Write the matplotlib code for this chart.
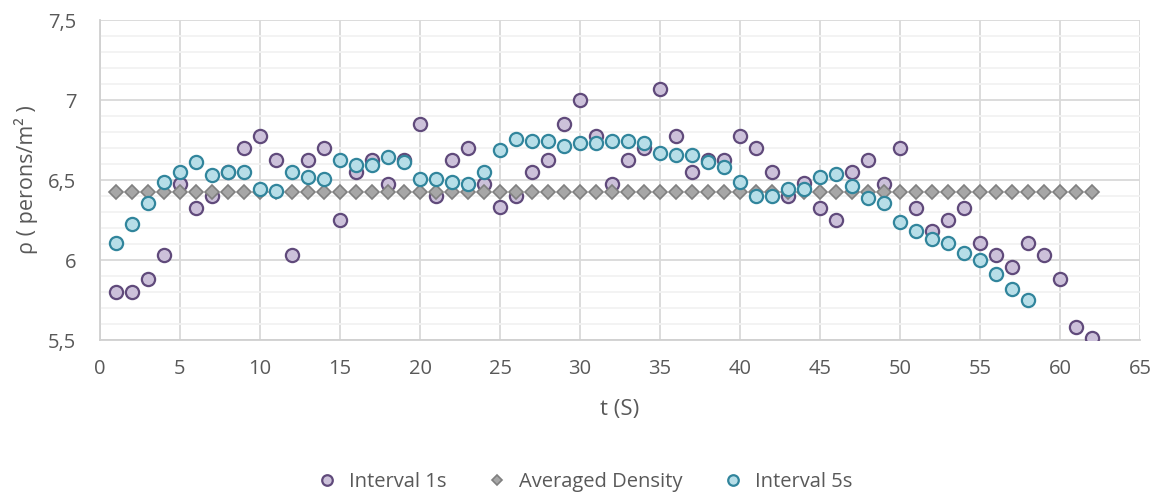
import matplotlib.pyplot as plt
import numpy as np
from matplotlib.ticker import FuncFormatter, MultipleLocator

plt.rcParams['font.family'] = ['Open Sans', 'DejaVu Sans']

# density sampled every second
t_1s = list(range(1, 63))
rho_1s = [
    5.80, 5.80, 5.88, 6.03, 6.475, 6.325, 6.40, 6.55, 6.70, 6.775,
    6.625, 6.03, 6.625, 6.70, 6.25, 6.55, 6.625, 6.475, 6.625, 6.85,
    6.40, 6.625, 6.70, 6.475, 6.33, 6.40, 6.55, 6.625, 6.85, 7.00,
    6.775, 6.475, 6.625, 6.70, 7.07, 6.775, 6.55, 6.625, 6.625, 6.775,
    6.70, 6.55, 6.40, 6.48, 6.325, 6.25, 6.55, 6.625, 6.475, 6.70,
    6.325, 6.18, 6.25, 6.325, 6.105, 6.03, 5.955, 6.105, 6.03, 5.88,
    5.58, 5.51,
]

# mean density over the whole run
t_avg = list(range(1, 63))
rho_avg = [6.423] * 62

# density averaged over a 5 s window
t_5s = list(range(1, 59))
rho_5s = [
    6.105, 6.223, 6.356, 6.49, 6.552, 6.61, 6.533, 6.55, 6.55, 6.446,
    6.433, 6.55, 6.52, 6.506, 6.625, 6.596, 6.596, 6.642, 6.612, 6.506,
    6.506, 6.49, 6.477, 6.55, 6.685, 6.756, 6.744, 6.744, 6.713, 6.729,
    6.729, 6.744, 6.744, 6.729, 6.67, 6.654, 6.654, 6.61, 6.58, 6.49,
    6.40, 6.40, 6.446, 6.446, 6.519, 6.535, 6.46, 6.385, 6.356, 6.238,
    6.18, 6.133, 6.104, 6.044, 6.00, 5.91, 5.82, 5.75,
]

text_color = '#595959'

fig = plt.figure(figsize=(11.6, 4.93), dpi=100)
ax = fig.add_axes([0.0862, 0.3103, 0.8966, 0.6491])

ax.plot(t_1s, rho_1s, 'o', ms=9.5, mfc='#CCC1DA', mec='#604A7B', mew=1.6,
        label='Interval 1s', zorder=3)
ax.plot(t_avg, rho_avg, 'D', ms=7, mfc='#A6A6A6', mec='#808080', mew=1.2,
        label='Averaged Density', zorder=4)
ax.plot(t_5s, rho_5s, 'o', ms=9.5, mfc='#B7DEE8', mec='#31859C', mew=1.6,
        label='Interval 5s', zorder=5)

ax.set_xlim(0, 65)
ax.set_ylim(5.5, 7.5)
ax.xaxis.set_major_locator(MultipleLocator(5))
ax.yaxis.set_major_locator(MultipleLocator(0.5))
ax.yaxis.set_minor_locator(MultipleLocator(0.1))

comma = FuncFormatter(lambda v, pos: f'{v:g}'.replace('.', ','))
ax.xaxis.set_major_formatter(comma)
ax.yaxis.set_major_formatter(comma)

ax.grid(which='major', color='#D9D9D9', lw=1.3, zorder=0)
ax.grid(which='minor', axis='y', color='#F2F2F2', lw=1.3, zorder=0)
ax.set_axisbelow(True)

for side in ('top', 'right'):
    ax.spines[side].set_visible(False)
for side in ('left', 'bottom'):
    ax.spines[side].set_color('#D0D0D0')
    ax.spines[side].set_linewidth(1.3)

ax.tick_params(which='both', length=0, labelsize=14.5, colors=text_color)
ax.tick_params(axis='x', pad=14)
ax.tick_params(axis='y', pad=17)

ax.set_xlabel('t (S)', fontsize=16, color=text_color, labelpad=14)
ax.set_ylabel('ρ ( perons/m² )', fontsize=15.5, color=text_color)
ax.yaxis.set_label_coords(-0.06, 0.5)

fig.legend(loc='lower center', bbox_to_anchor=(0.5, -0.035), ncol=3,
           frameon=False, fontsize=14.5, labelcolor=text_color,
           handletextpad=0.1, columnspacing=1.5, markerscale=0.8)

fig.savefig('out.png', dpi=100)
